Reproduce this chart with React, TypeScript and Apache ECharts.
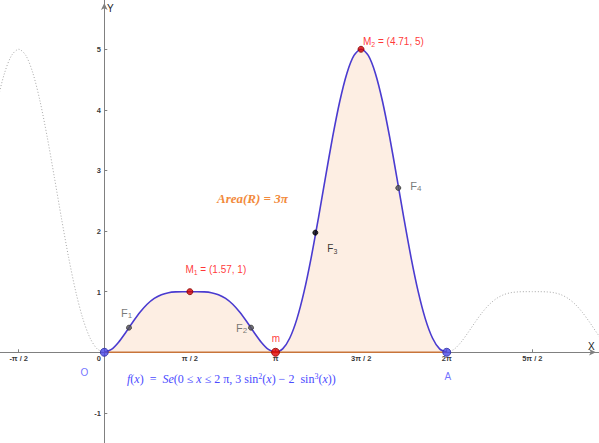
import React, { useEffect, useRef } from "react";
import * as echarts from "echarts";

const PI = Math.PI;

// f(x) = 3 sin²(x) − 2 sin³(x), sampled every π/24 over one period [0, 2π]
const sampleStep = PI / 24;
const periodValues = [
  0, 0.0467, 0.1663, 0.3273, 0.5, 0.6606, 0.7929, 0.8895, 0.951, 0.9835, 0.9966, 0.9998, 1,
  0.9998, 0.9966, 0.9835, 0.951, 0.8895, 0.7929, 0.6606, 0.5, 0.3273, 0.1663, 0.0467, 0,
  0.0556, 0.2356, 0.5514, 1.0, 1.563, 2.2071, 2.8869, 3.549, 4.1378, 4.6015, 4.898, 5,
  4.898, 4.6015, 4.1378, 3.549, 2.8869, 2.2071, 1.563, 1.0, 0.5514, 0.2356, 0.0556, 0,
];

const xTickValues = [-PI / 2, PI / 2, PI, (3 * PI) / 2, 2 * PI, (5 * PI) / 2];
const xTickLabels = ["-π / 2", "π / 2", "π", "3π / 2", "2π", "5π / 2"];
const yTickValues = [-1, 1, 2, 3, 4, 5];
const yTickLabels = ["-1", "1", "2", "3", "4", "5"];

const pointNames = ["O", "F1", "M1", "F2", "m", "F3", "M2", "F4", "A"];
const pointX = [0, 0.453, 1.57, 2.692, PI, 3.872, 4.71, 5.394, 2 * PI];
const pointY = [0, 0.406, 1, 0.406, 0, 1.974, 5, 2.712, 0];

const X_MIN = -1.914;
const X_MAX = 9.077;
const Y_MIN = -1.497;
const Y_MAX = 5.813;

const SANS = "'Liberation Sans', Arial, sans-serif";
const SERIF = "'Liberation Serif', 'DejaVu Serif', serif";

// styles for each point (marker + label)
const pointStyle: Record<string, any> = {
  O: { color: "#4646e6", border: "#2a2aa0", size: 8, text: "O", tc: "#4d4dff", fs: 10, dx: -20, dy: 20, align: "center" },
  F1: { color: "#555555", border: "#333333", size: 5, text: "F{s|1}", tc: "#555555", fs: 11, dx: -8, dy: -15, align: "left" },
  M1: { color: "#d40000", border: "#800000", size: 6, text: "M{s|1} = (1.57, 1)", tc: "#ff0000", fs: 10, dx: -4.5, dy: -22, align: "left" },
  F2: { color: "#555555", border: "#333333", size: 5, text: "F{s|2}", tc: "#555555", fs: 11, dx: -15, dy: 0, align: "left" },
  m: { color: "#e00000", border: "#900000", size: 8, text: "m", tc: "#ff0000", fs: 10, dx: 0.5, dy: -14, align: "center" },
  F3: { color: "#000000", border: "#000000", size: 5, text: "F{s|3}", tc: "#000000", fs: 10, dx: 12, dy: 15.5, align: "left" },
  M2: { color: "#d40000", border: "#800000", size: 6, text: "M{s|2} = (4.71, 5)", tc: "#ff0000", fs: 10, dx: 2, dy: -7.5, align: "left" },
  F4: { color: "#555555", border: "#333333", size: 5, text: "F{s|4}", tc: "#555555", fs: 11, dx: 12, dy: -2, align: "left" },
  A: { color: "#4646e6", border: "#2a2aa0", size: 8, text: "A", tc: "#4d4dff", fs: 10, dx: 1, dy: 24, align: "center" },
};

function textItem(x: number, y: number, text: string, dx: number, dy: number, align: string, color: string, fs: number, weight = "normal") {
  return {
    value: [x, y],
    label: {
      show: true,
      formatter: text,
      position: [dx + 0.5, dy + 0.5],
      align,
      verticalAlign: "middle",
      color,
      fontSize: fs,
      fontWeight: weight,
      fontFamily: SANS,
      rich: {
        s: { fontSize: Math.round(fs * 0.72), color, fontFamily: SANS, padding: [6, 0, 0, 0] },
      },
    },
  };
}

export default function App() {
  const ref = useRef<HTMLDivElement>(null);

  useEffect(() => {
    if (!ref.current) return;
    const chart = echarts.init(ref.current, null, { renderer: "svg" });

    const mainData = periodValues.map((v, k) => [k * sampleStep, v]);
    const leftData = periodValues
      .map((v, k) => [k * sampleStep - 2 * PI, v])
      .filter((p) => p[0] >= -2.3);
    const rightData = periodValues
      .map((v, k) => [k * sampleStep + 2 * PI, v])
      .filter((p) => p[0] <= 9.5);

    const pointData = pointNames.map((n, i) => {
      const s = pointStyle[n];
      return {
        value: [pointX[i], pointY[i]],
        symbolSize: s.size,
        itemStyle: { color: s.color, borderColor: s.border, borderWidth: 1 },
      };
    });

    const labelData: any[] = pointNames.map((n, i) => {
      const s = pointStyle[n];
      return textItem(pointX[i], pointY[i], s.text, s.dx, s.dy, s.align, s.tc, s.fs);
    });
    // axis origin label "0"
    labelData.push(textItem(0, 0, "0", -5.5, 6, "center", "#000000", 7.5, "bold"));
    // x tick labels
    xTickValues.forEach((v, i) => labelData.push(textItem(v, 0, xTickLabels[i], 0, 6.5, "center", "#000000", 7.5, "bold")));
    // y tick labels
    yTickValues.forEach((v, i) => labelData.push(textItem(0, v, yTickLabels[i], -3.5, 0.5, "right", "#000000", 7.5, "bold")));

    const axisColor = "#808080";

    chart.setOption({
      animation: false,
      backgroundColor: "#ffffff",
      grid: { left: 0, right: 0, top: 0, bottom: 0, containLabel: false, outerBoundsMode: "none" },
      xAxis: {
        type: "value",
        min: X_MIN,
        max: X_MAX,
        splitLine: { show: false },
        axisLine: {
          onZero: true,
          lineStyle: { color: axisColor, width: 1 },
          symbol: ["none", "arrow"],
          symbolSize: [5, 7],
          symbolOffset: [0, -3],
        },
        axisTick: { show: true, inside: true, length: 3, customValues: xTickValues, lineStyle: { color: axisColor } },
        axisLabel: { show: false },
      },
      yAxis: {
        type: "value",
        min: Y_MIN,
        max: Y_MAX,
        splitLine: { show: false },
        axisLine: {
          onZero: true,
          lineStyle: { color: axisColor, width: 1 },
          symbol: ["none", "arrow"],
          symbolSize: [5, 7],
          symbolOffset: [0, -3],
        },
        axisTick: { show: true, inside: true, length: 3, customValues: yTickValues, lineStyle: { color: axisColor } },
        axisLabel: { show: false },
      },
      graphic: [
        {
          type: "text",
          left: 217,
          top: 192,
          z: 10,
          style: {
            text: "Area(R) = 3π",
            fill: "#f28a3c",
            font: `italic bold 13px ${SERIF}`,
          },
        },
        {
          type: "text",
          left: 127,
          top: 372,
          z: 10,
          style: {
            text: "{i|f}({i|x})  =  {i|Se}(0 ≤ {i|x} ≤ 2 π, 3 sin{p|2}({i|x}) − 2  sin{p|3}({i|x}))",
            fill: "#4b4bff",
            font: `12px ${SERIF}`,
            rich: {
              i: { fontStyle: "italic", fontFamily: SERIF, fontSize: 12, fill: "#4b4bff" },
              p: { fontFamily: SERIF, fontSize: 8, fill: "#4b4bff", padding: [0, 0, 6, 0] },
            },
          },
        },
        {
          type: "text",
          left: 588,
          top: 341,
          z: 10,
          style: { text: "X", fill: "#222222", font: `10px ${SANS}` },
        },
        {
          type: "text",
          left: 107,
          top: 3,
          z: 10,
          style: { text: "Y", fill: "#222222", font: `10px ${SANS}` },
        },
      ],
      series: [
        {
          type: "line",
          data: mainData,
          smooth: 0.3,
          showSymbol: false,
          lineStyle: { color: "#4a3bd0", width: 1.6 },
          areaStyle: { color: "#fdeee3", opacity: 1 },
          z: 2,
        },
        {
          type: "line",
          data: leftData,
          smooth: 0.3,
          showSymbol: false,
          lineStyle: { color: "#a8a8a8", width: 1, type: [1, 2] },
          z: 2,
        },
        {
          type: "line",
          data: rightData,
          smooth: 0.3,
          showSymbol: false,
          lineStyle: { color: "#a8a8a8", width: 1, type: [1, 2] },
          z: 2,
        },
        {
          type: "line",
          data: [
            [0, 0],
            [2 * PI, 0],
          ],
          showSymbol: false,
          lineStyle: { color: "#c8743a", width: 1.5 },
          z: 3,
        },
        {
          type: "scatter",
          data: pointData,
          z: 5,
        },
        {
          type: "scatter",
          data: labelData,
          symbolSize: 1,
          itemStyle: { color: "rgba(0,0,0,0)" },
          z: 6,
        },
      ],
    });

    return () => chart.dispose();
  }, []);

  return (
    <div
      ref={ref}
      style={{ position: "absolute", left: 0, top: 0, width: 599, height: 443, background: "#ffffff" }}
    />
  );
}
